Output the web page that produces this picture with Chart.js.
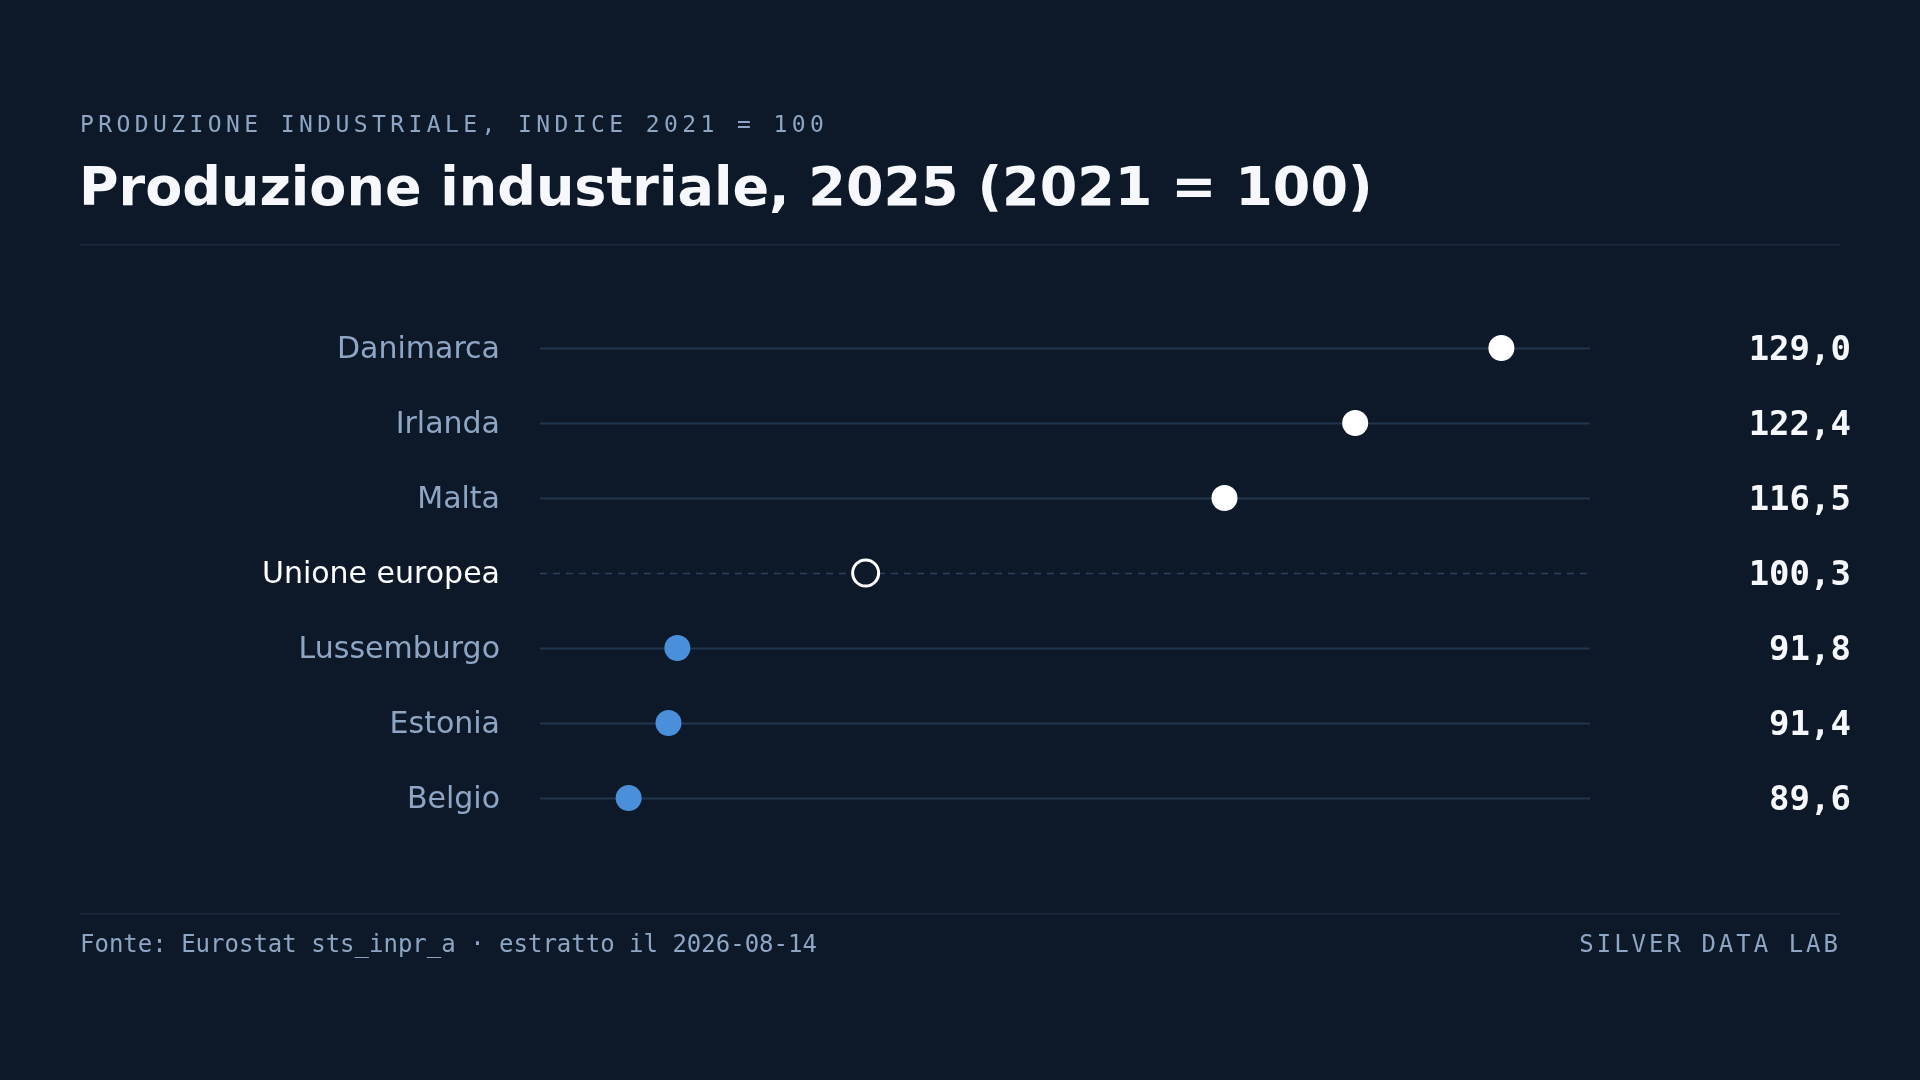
<!DOCTYPE html>
<html lang="it">
<head>
<meta charset="utf-8">
<title>Produzione industriale, 2025 (2021 = 100)</title>
<script src="https://cdn.jsdelivr.net/npm/chart.js@4.4.1/dist/chart.umd.min.js"></script>
<style>
  html, body { margin: 0; padding: 0; background: #0d1929; }
  #wrap { position: relative; width: 1920px; height: 1080px; }
  #chart { display: block; }
</style>
</head>
<body>
<div id="wrap"><canvas id="chart" width="1920" height="1080"></canvas></div>
<script>
// Data
const countries = ['Danimarca', 'Irlanda', 'Malta', 'Unione europea', 'Lussemburgo', 'Estonia', 'Belgio'];
const values = [129.0, 122.4, 116.5, 100.3, 91.8, 91.4, 89.6];
const referenceLabel = 'Unione europea';

const kicker = 'PRODUZIONE INDUSTRIALE, INDICE 2021 = 100';
const title = 'Produzione industriale, 2025 (2021 = 100)';
const source = 'Fonte: Eurostat sts_inpr_a · estratto il 2026-08-14';
const brand = 'SILVER DATA LAB';

// Colours
const BG = '#0d1929';
const RULE = '#1a2a3f';
const TRACK = '#22374f';
const MUTED = '#8ea6c4';
const WHITE = '#ffffff';
const BLUE = '#4a8fd9';

const refIndex = countries.indexOf(referenceLabel);
const refValue = values[refIndex];

function dotFill(i) {
    if (i === refIndex) return BG;
    return values[i] >= refValue ? WHITE : BLUE;
}
function dotBorder(i) {
    return i === refIndex ? WHITE : dotFill(i);
}

function formatValue(v) {
    return v.toFixed(1).replace('.', ',');
}

// Header, footer, tracks, labels and value column
const decorations = {
    id: 'decorations',
    beforeDatasetsDraw(chart) {
        const ctx = chart.ctx;
        const x = chart.scales.x;
        const y = chart.scales.y;
        ctx.save();

        // tracks
        countries.forEach((name, i) => {
            const py = Math.round(y.getPixelForValue(i)) + 0.5;
            ctx.beginPath();
            ctx.lineWidth = 2;
            ctx.strokeStyle = TRACK;
            if (i === refIndex) {
                ctx.setLineDash([7, 6]);
                ctx.strokeStyle = '#2a4262';
                ctx.lineWidth = 1.5;
            } else {
                ctx.setLineDash([]);
            }
            ctx.moveTo(x.left, py);
            ctx.lineTo(x.right, py);
            ctx.stroke();
        });
        ctx.setLineDash([]);
        ctx.restore();
    },
    afterDraw(chart) {
        const ctx = chart.ctx;
        const y = chart.scales.y;
        ctx.save();

        // kicker
        ctx.fillStyle = MUTED;
        ctx.font = '23px "DejaVu Sans Mono"';
        ctx.letterSpacing = '4.4px';
        ctx.textAlign = 'left';
        ctx.textBaseline = 'alphabetic';
        ctx.fillText(kicker, 80, 132);

        // title
        ctx.letterSpacing = '0px';
        ctx.fillStyle = '#f6f8fb';
        ctx.font = 'bold 54px "DejaVu Sans"';
        ctx.fillText(title, 79, 205);

        // rules
        ctx.fillStyle = RULE;
        ctx.fillRect(80, 244, 1760, 1.5);
        ctx.fillRect(80, 913, 1760, 1.5);

        // row labels and values
        countries.forEach((name, i) => {
            const py = y.getPixelForValue(i);
            ctx.textBaseline = 'middle';
            ctx.textAlign = 'right';
            ctx.font = '30px "DejaVu Sans"';
            ctx.fillStyle = i === refIndex ? WHITE : MUTED;
            ctx.fillText(name, 500, py + 2.5);

            ctx.font = 'bold 34px "DejaVu Sans Mono"';
            ctx.fillStyle = '#f6f8fb';
            ctx.fillText(formatValue(values[i]), 1851, py + 3);
        });

        // footer
        ctx.textBaseline = 'alphabetic';
        ctx.fillStyle = MUTED;
        ctx.font = '24px "DejaVu Sans Mono"';
        ctx.textAlign = 'left';
        ctx.fillText(source, 80, 952);
        ctx.letterSpacing = '3px';
        ctx.textAlign = 'right';
        ctx.fillText(brand, 1841, 952);
        ctx.restore();
    }
};

const ctx = document.getElementById('chart').getContext('2d');
const chart = new Chart(ctx, {
    type: 'scatter',
    data: {
        datasets: [{
            data: values.map((v, i) => ({ x: v, y: countries[i] })),
            pointRadius: 13,
            pointHoverRadius: 13,
            pointBackgroundColor: countries.map((c, i) => dotFill(i)),
            pointBorderColor: countries.map((c, i) => dotBorder(i)),
            pointBorderWidth: countries.map((c, i) => i === refIndex ? 3 : 0),
            clip: false
        }]
    },
    options: {
        responsive: false,
        animation: false,
        events: [],
        layout: {
            padding: { left: 540, right: 330, top: 310.5, bottom: 244.5 }
        },
        scales: {
            x: { type: 'linear', min: 85.6, max: 133, display: false },
            y: { type: 'category', labels: countries, offset: true, display: false }
        },
        plugins: {
            legend: { display: false },
            tooltip: { enabled: false }
        }
    },
    plugins: [decorations]
});
</script>
</body>
</html>
